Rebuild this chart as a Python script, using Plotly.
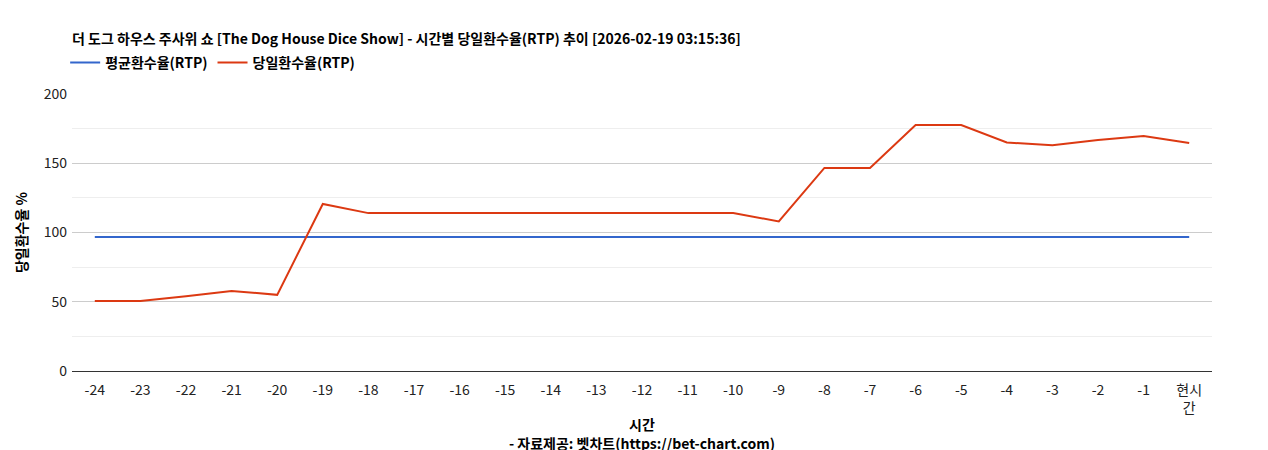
import plotly.graph_objects as go

categories = ["-24","-23","-22","-21","-20","-19","-18","-17","-16","-15","-14","-13","-12","-11","-10","-9","-8","-7","-6","-5","-4","-3","-2","-1","현시<br>간"]
avg_rtp = [96.7]*25
daily_rtp = [50.5,50.5,54,57.8,55,120.6,114,114,114,114,114,114,114,114,114,108,146.6,146.6,177.6,177.6,165,163,166.8,169.7,164.6]

fig = go.Figure()
fig.add_trace(go.Scatter(x=categories, y=avg_rtp, mode="lines", name="<b>평균환수율(RTP)</b>", line=dict(color="#3366cc", width=2)))
fig.add_trace(go.Scatter(x=categories, y=daily_rtp, mode="lines", name="<b>당일환수율(RTP)</b>", line=dict(color="#dc3912", width=2)))

fig.update_layout(
    width=1268, height=450, plot_bgcolor="white", paper_bgcolor="white",
    font=dict(family="Noto Sans CJK KR, Roboto, sans-serif", size=14, color="#222"),
    margin=dict(l=64, r=64, t=86, b=87, autoexpand=False),
    title=dict(text="<b>더 도그 하우스 주사위 쇼 [The Dog House Dice Show] - 시간별 당일환수율(RTP) 추이 [2026-02-19 03:15:36]</b>",
               x=64/1268, xref="container", xanchor="left", y=1-31/450, yref="container", yanchor="middle",
               font=dict(size=14, color="#000")),
    legend=dict(orientation="h", x=-0.006, xref="paper", y=1-55/450, yref="container", xanchor="left", yanchor="middle",
                font=dict(size=14, color="#000")),
    showlegend=True,
)
fig.update_xaxes(type="category", range=[-0.5, 24.5], showgrid=False, showline=True, linecolor="#333", ticks="",
                 automargin=False, ticklabelstandoff=6,
                 tickfont=dict(size=14, color="#222"),
                 title=dict(text="<b>시간</b><br><b>- 자료제공: 벳차트(https://bet-chart.com)</b>", font=dict(size=14, color="#000"), standoff=4))
fig.update_yaxes(range=[0, 200], tickvals=[0,50,100,150,200], gridcolor="#ccc", zeroline=False, automargin=False,
                 minor=dict(tickvals=[25,75,125,175], showgrid=True, gridcolor="#eee"),
                 tickfont=dict(size=14, color="#222"), ticklabelstandoff=4,
                 title=dict(text="<b>당일환수율 %</b>", font=dict(size=14, color="#000"), standoff=12))
fig.write_html("out.html")
